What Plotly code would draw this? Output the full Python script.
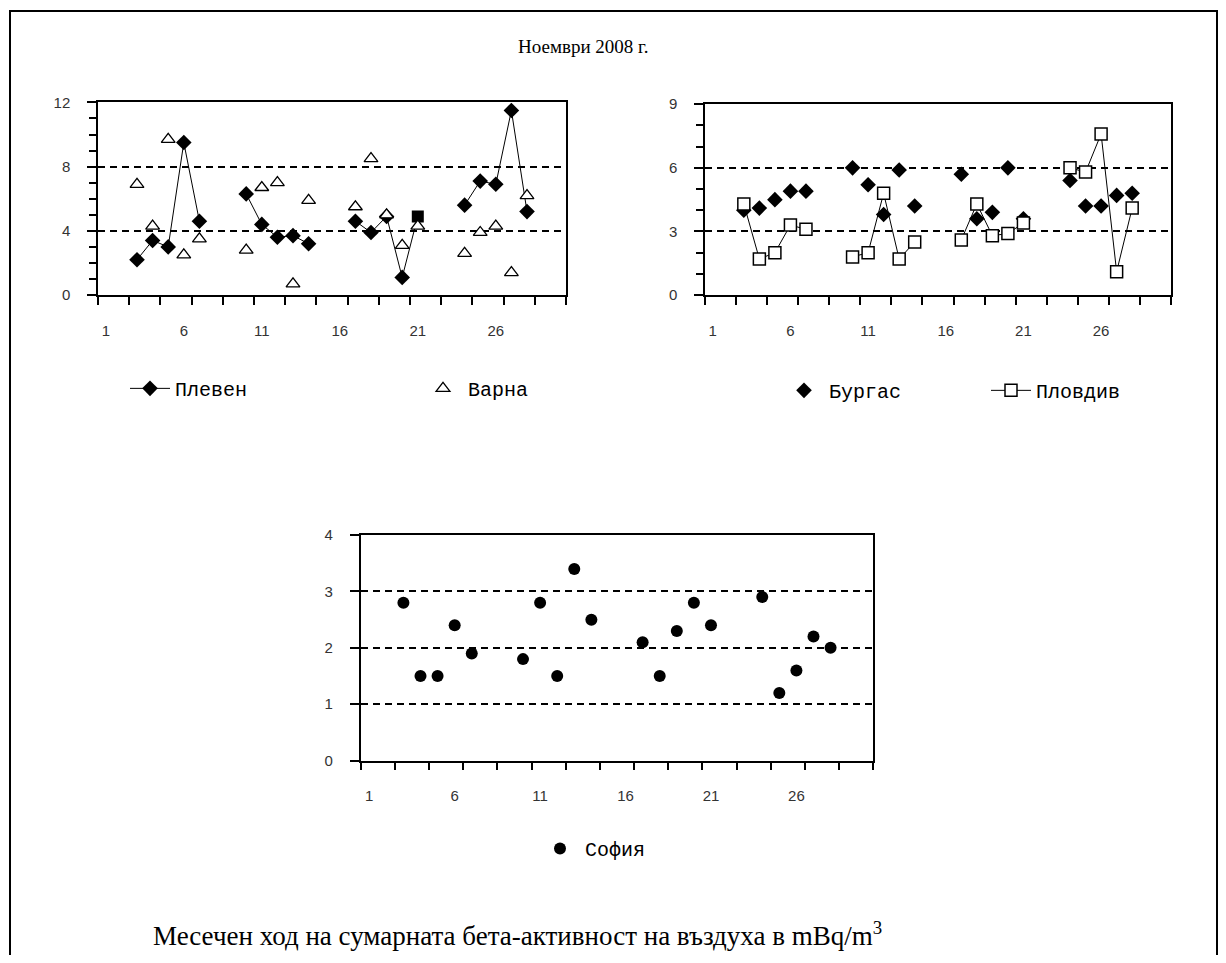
import plotly.graph_objects as go

days = list(range(1, 31))
N = None
pleven = [N, N, 2.2, 3.4, 3.0, 9.5, 4.6, N, N, 6.3, 4.4, 3.6, 3.7, 3.2, N, N, 4.6, 3.9, 4.9, 1.1, 4.9, N, N, 5.6, 7.1, 6.9, 11.5, 5.2, N, N]
varna = [N, N, 6.9, 4.3, 9.7, 2.5, 3.5, N, N, 2.8, 6.7, 7.0, 0.7, 5.9, N, N, 5.5, 8.5, 5.0, 3.1, 4.3, N, N, 2.6, 3.9, 4.3, 1.4, 6.2, N, N]
burgas = [N, N, 4.0, 4.1, 4.5, 4.9, 4.9, N, N, 6.0, 5.2, 3.8, 5.9, 4.2, N, N, 5.7, 3.6, 3.9, 6.0, 3.6, N, N, 5.4, 4.2, 4.2, 4.7, 4.8, N, N]
plovdiv = [N, N, 4.3, 1.7, 2.0, 3.3, 3.1, N, N, 1.8, 2.0, 4.8, 1.7, 2.5, N, N, 2.6, 4.3, 2.8, 2.9, 3.4, N, N, 6.0, 5.8, 7.6, 1.1, 4.1, N, N]
sofia = [N, N, 2.8, 1.5, 1.5, 2.4, 1.9, N, N, 1.8, 2.8, 1.5, 3.4, 2.5, N, N, 2.1, 1.5, 2.3, 2.8, 2.4, N, N, 2.9, 1.2, 1.6, 2.2, 2.0, N, N]
x_tick_labels = ["1", "6", "11", "16", "21", "26"]
x_tick_vals = [1, 6, 11, 16, 21, 26]

# page body has an 8px margin; figure sized so page is 1226x963
OFF = 8
W, H = 1226 - 2 * OFF, 963 - 2 * OFF
VOFF, VSC = 15.9, 0.984
def px(x): return (x - OFF) / W
def py(y): return 1 - ((y - VOFF) / VSC) / H

pleven_symbols = ["diamond"] * 30
pleven_symbols[20] = "square"

fig = go.Figure()
fig.add_trace(go.Scatter(x=days, y=pleven, name="Плевен", mode="lines+markers",
                         line=dict(color="black", width=1),
                         marker=dict(symbol=pleven_symbols, size=12, color="black"),
                         xaxis="x", yaxis="y", legend="legend"))
fig.add_trace(go.Scatter(x=days, y=varna, name="Варна", mode="markers",
                         marker=dict(symbol="triangle-up", size=12, color="white",
                                     line=dict(color="black", width=1.3)),
                         xaxis="x", yaxis="y", legend="legend2"))
fig.add_trace(go.Scatter(x=days, y=burgas, name="Бургас", mode="markers",
                         marker=dict(symbol="diamond", size=12, color="black"),
                         xaxis="x2", yaxis="y2", legend="legend3"))
fig.add_trace(go.Scatter(x=days, y=plovdiv, name="Пловдив", mode="lines+markers",
                         line=dict(color="black", width=1),
                         marker=dict(symbol="square", size=12, color="white", line=dict(color="black", width=1.5)),
                         xaxis="x2", yaxis="y2", legend="legend4"))
fig.add_trace(go.Scatter(x=days, y=sofia, name="София", mode="markers",
                         marker=dict(symbol="circle", size=12, color="black"),
                         xaxis="x3", yaxis="y3", legend="legend5"))

tickfont = dict(family="Liberation Sans, Arial, sans-serif", size=15, color="#333")

def xaxis(domain, anchor):
    return dict(domain=domain, anchor=anchor, range=[0.5, 30.5],
                tickmode="array", tickvals=x_tick_vals, ticktext=x_tick_labels,
                ticks="outside", ticklen=0, tickfont=tickfont, ticklabelstandoff=21,
                showgrid=False, zeroline=False, showline=True, linecolor="black",
                linewidth=1.5, mirror=True,
                minor=dict(tick0=0.5, dtick=2, ticks="outside", ticklen=8,
                           tickwidth=1.5, tickcolor="black", showgrid=False))

def yaxis(domain, anchor, rng, dtick, minor_dtick):
    d = dict(domain=domain, anchor=anchor, range=rng, dtick=dtick, tick0=0,
             ticks="outside", ticklen=9, tickwidth=1.5, tickcolor="black",
             tickfont=tickfont, ticklabelstandoff=14,
             showgrid=True, gridcolor="black", gridwidth=1.5, griddash="7px,5px",
             zeroline=False, showline=True, linecolor="black", linewidth=1.5, mirror=True)
    if minor_dtick:
        d["minor"] = dict(tick0=0, dtick=minor_dtick, ticks="outside", ticklen=7,
                          tickwidth=1.5, tickcolor="black", showgrid=False)
    return d

legfont = dict(family="Liberation Mono, Courier New, monospace", size=20, color="black")
def leg(x, y):
    return dict(x=px(x), y=py(y), xanchor="left", yanchor="middle", orientation="h",
                font=legfont, bgcolor="rgba(0,0,0,0)", borderwidth=0, itemwidth=40)

fig.update_layout(
    width=W, height=H, margin=dict(l=0, r=0, t=0, b=0, pad=0),
    paper_bgcolor="white", plot_bgcolor="white", showlegend=True,
    xaxis=xaxis([px(98), px(566)], "y"),
    yaxis=yaxis([py(294.5), py(101.5)], "x", [0, 12], 4, 1),
    xaxis2=xaxis([px(705), px(1171)], "y2"),
    yaxis2=yaxis([py(294.5), py(103.3)], "x2", [0, 9], 3, 1),
    xaxis3=xaxis([px(360.7), px(873.3)], "y3"),
    yaxis3=yaxis([py(761), py(535)], "x3", [0, 4], 1, None),
    legend=leg(125, 388),
    legend2=leg(418, 388),
    legend3=leg(779, 390),
    legend4=leg(986, 390),
    legend5=leg(535, 849),
    annotations=[
        dict(text="Ноември 2008 г.", x=px(583), y=py(45), xref="paper", yref="paper",
             showarrow=False, xanchor="center", yanchor="middle",
             font=dict(family="Liberation Serif, Times New Roman, serif", size=19, color="black")),
        dict(text="Месечен ход на сумарната бета-активност на въздуха в mBq/m<sup>3</sup>",
             x=px(517), y=py(935), xref="paper", yref="paper",
             showarrow=False, xanchor="center", yanchor="middle",
             font=dict(family="Liberation Serif, Times New Roman, serif", size=27, color="black")),
    ],
    shapes=[dict(type="rect", xref="paper", yref="paper", x0=px(10), x1=px(1217),
                 y0=-0.03, y1=py(10), line=dict(color="black", width=2), fillcolor="rgba(0,0,0,0)")],
)

fig.write_html("out.html")
